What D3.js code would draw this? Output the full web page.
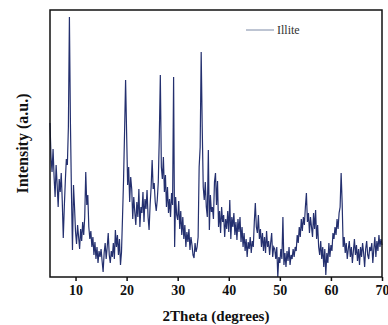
<!DOCTYPE html>
<html>
<head>
<meta charset="utf-8">
<script src="https://cdn.jsdelivr.net/npm/d3@7"></script>
<style>
  html, body { margin: 0; padding: 0; background: #fff; }
  svg { display: block; }
</style>
</head>
<body>
<svg id="chart" width="388" height="325"></svg>
<script>
// 2Theta range of the scan, 0.2 degree step
const thetaStart = 5;
const thetaStep = 0.2;

// intensity (a.u.), one row per degree
const intensity = [
  154, 120, 105, 128, 100,   // 5
  80, 112, 92, 70, 98,       // 6
  85, 104, 76, 39, 70,       // 7
  96, 118, 112, 150, 260,    // 8
  154, 84, 27, 92, 70,       // 9
  45, 33, 52, 40, 28,        // 10
  48, 36, 55, 42, 60,        // 11
  105, 72, 82, 50, 38,       // 12
  46, 30, 40, 22, 35,        // 13
  18, 30, 14, 26, 20,        // 14
  28, 16, 5, 24, 34,         // 15
  18, 30, 44, 22, 14,        // 16
  26, 20, 34, 18, 47,        // 17
  30, 42, 22, 38, 12,        // 18
  25, 60, 97, 145, 197,      // 19
  144, 92, 110, 75, 100,     // 20
  88, 58, 80, 65, 52,        // 21
  75, 60, 88, 50, 70,        // 22
  64, 85, 55, 78, 68,        // 23
  87, 60, 47, 72, 90,        // 24
  117, 88, 94, 75, 66,       // 25
  77, 95, 140, 202, 110,     // 26
  98, 120, 85, 102, 70,      // 27
  90, 64, 78, 60, 84,        // 28
  72, 200, 30, 80, 62,       // 29
  57, 76, 48, 66, 42,        // 30
  60, 38, 52, 30, 45,        // 31
  35, 48, 27, 40, 32,        // 32
  22, 19, 34, 25, 30,        // 33
  40, 110, 130, 225, 150,    // 34
  90, 77, 95, 70, 60,        // 35
  127, 47, 82, 65, 70,       // 36
  58, 95, 104, 72, 96,       // 37
  50, 66, 44, 70, 55,        // 38
  62, 40, 58, 48, 66,        // 39
  45, 77, 38, 60, 50,        // 40
  64, 42, 55, 37, 58,        // 41
  45, 60, 35, 50, 30,        // 42
  44, 26, 38, 20, 35,        // 43
  28, 40, 24, 36, 30,        // 44
  55, 74, 50, 44, 62,        // 45
  38, 48, 30, 44, 26,        // 46
  40, 24, 46, 30, 36,        // 47
  22, 34, 44, 20, 30,        // 48
  28, 18, 30, 0, 20,         // 49
  14, 28, 18, 60, 12,        // 50
  24, 10, 26, 16, 30,        // 51
  12, 22, 18, 28, 20,        // 52
  30, 26, 42, 34, 50,        // 53
  40, 58, 46, 60, 52,        // 54
  70, 84, 55, 64, 44,        // 55
  60, 50, 40, 64, 48,        // 56
  67, 38, 52, 30, 22,        // 57
  36, 18, 30, 10, 28,        // 58
  2, 24, 14, 34, 20,         // 59
  32, 26, 44, 38, 50,        // 60
  42, 58, 48, 64, 70,        // 61
  104, 74, 30, 40, 24,       // 62
  34, 18, 28, 36, 20,        // 63
  30, 14, 26, 38, 22,        // 64
  32, 16, 28, 12, 30,        // 65
  20, 34, 24, 10, 28,        // 66
  36, 22, 18, 30, 26,        // 67
  34, 14, 28, 40, 20,        // 68
  36, 26, 42, 30, 38,        // 69
  32                         // 70
];

const xTicks = [10, 20, 30, 40, 50, 60, 70];
const seriesName = "Illite";

const margin = { top: 10, right: 6, bottom: 48, left: 50 };
const width = 388, height = 325;

const svg = d3.select("#chart");

const x = d3.scaleLinear()
  .domain([5, 70])
  .range([margin.left, width - margin.right]);

const y = d3.scaleLinear()
  .domain([0, 267])
  .range([height - margin.bottom, margin.top]);

const points = intensity.map((v, i) => [thetaStart + i * thetaStep, v]);

// the scan
const line = d3.line()
  .x(d => x(d[0]))
  .y(d => y(d[1]));

svg.append("path")
  .datum(points)
  .attr("fill", "none")
  .attr("stroke", "#24306f")
  .attr("stroke-width", 1.2)
  .attr("stroke-linejoin", "miter")
  .attr("d", line);

// x axis, ticks only below the frame
const xAxis = d3.axisBottom(x)
  .tickValues(xTicks)
  .tickSize(4)
  .tickSizeOuter(0)
  .tickFormat(d3.format("d"));

const gx = svg.append("g")
  .attr("transform", "translate(0," + (height - margin.bottom) + ")")
  .call(xAxis);

gx.select(".domain").remove();
gx.selectAll(".tick line")
  .attr("stroke", "#111")
  .attr("stroke-width", 1.5);
gx.selectAll(".tick text")
  .attr("y", 8)
  .attr("fill", "#111")
  .style("font-family", "'Liberation Serif', 'Times New Roman', serif")
  .style("font-weight", "bold")
  .style("font-size", "14px");

// frame
svg.append("rect")
  .attr("x", margin.left)
  .attr("y", margin.top)
  .attr("width", width - margin.left - margin.right)
  .attr("height", height - margin.top - margin.bottom)
  .attr("fill", "none")
  .attr("stroke", "#111")
  .attr("stroke-width", 1.5);

// axis titles
svg.append("text")
  .attr("x", (margin.left + width - margin.right) / 2)
  .attr("y", 321)
  .attr("text-anchor", "middle")
  .attr("fill", "#111")
  .style("font-family", "'Liberation Serif', 'Times New Roman', serif")
  .style("font-weight", "bold")
  .style("font-size", "15px")
  .text("2Theta (degrees)");

svg.append("text")
  .attr("transform", "translate(28," + (margin.top + height - margin.bottom) / 2 + ") rotate(-90)")
  .attr("text-anchor", "middle")
  .attr("fill", "#111")
  .style("font-family", "'Liberation Serif', 'Times New Roman', serif")
  .style("font-weight", "bold")
  .style("font-size", "16px")
  .text("Intensity (a.u.)");

// legend
const legend = svg.append("g").attr("transform", "translate(246,30)");
legend.append("line")
  .attr("x1", 0).attr("x2", 28)
  .attr("y1", 0).attr("y2", 0)
  .attr("stroke", "#7d8aa6")
  .attr("stroke-width", 1);
legend.append("text")
  .attr("x", 31)
  .attr("y", 4)
  .attr("fill", "#333")
  .style("font-family", "'Liberation Serif', 'Times New Roman', serif")
  .style("font-size", "12px")
  .text(seriesName);
</script>
</body>
</html>
